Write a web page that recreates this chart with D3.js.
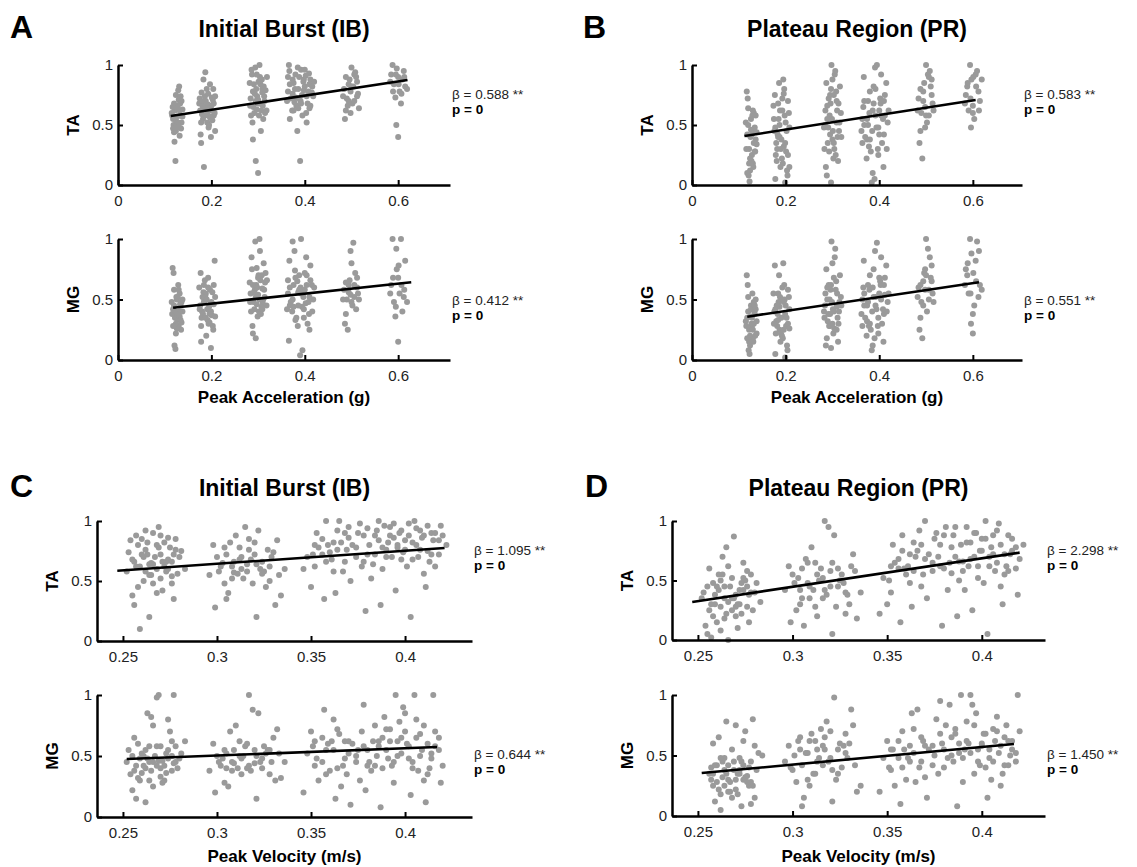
<!DOCTYPE html>
<html>
<head>
<meta charset="utf-8">
<script src="https://cdn.jsdelivr.net/npm/d3@7"></script>
<style>
  body { margin: 0; background: #fff; }
  svg { display: block; font-family: "Liberation Sans", Arial, sans-serif; }
  .domain { stroke: #000; stroke-width: 2.5; }
  .tick line { stroke: #000; stroke-width: 2; }
  .tick text { font-size: 15px; fill: #222; }
</style>
</head>
<body>
<script>
const width = 1137;
const height = 867;

// données : paires [x*1000, y*100]
// A : accélération, Initial Burst
const accIbTA = [
  118,55, 122,62, 126,48, 130,71, 134,58, 120,44, 128,66, 136,52, 115,60, 124,75, 132,41, 138,63, 119,50, 127,57, 133,68, 121,36, 129,79, 135,47, 117,65, 125,53, 131,82, 123,20,
  116,58, 120,68, 124,45, 128,52, 132,62, 136,70, 122,56, 126,64, 130,49, 134,74, 138,57, 118,47,
  176,62, 182,55, 188,70, 194,48, 200,66, 205,58, 179,77, 185,63, 191,52, 197,84, 203,71, 208,45, 174,68, 180,59, 186,74, 192,61, 198,56, 204,80, 177,42, 183,88, 189,65, 195,50, 201,73, 207,60, 178,35, 187,94, 193,67, 199,40, 184,15, 196,57,
  175,72, 181,66, 187,58, 193,76, 199,62, 205,68, 178,52, 184,70, 190,80, 196,64, 202,54, 208,74,
  284,72, 290,65, 296,80, 302,58, 308,88, 314,70, 318,62, 287,92, 293,76, 299,68, 305,84, 311,55, 286,96, 292,60, 298,74, 304,90, 310,66, 316,79, 282,85, 288,52, 294,98, 300,71, 306,45, 312,82, 289,38, 297,63, 303,100, 309,77, 295,20, 300,10,
  283,66, 289,78, 295,70, 301,86, 307,62, 313,74, 319,90, 285,58, 291,84, 297,92, 303,68, 309,80, 315,60,
  364,78, 370,72, 376,85, 382,66, 388,90, 394,75, 400,82, 406,68, 412,88, 418,74, 367,95, 373,62, 379,80, 385,98, 391,70, 397,86, 403,60, 409,93, 415,77, 368,55, 374,88, 380,73, 386,64, 392,96, 398,79, 404,52, 410,84, 366,100, 384,45, 402,91, 378,69, 395,58, 390,20, 412,66,
  362,70, 368,84, 374,76, 380,92, 386,80, 392,68, 398,88, 404,74, 410,64, 416,82, 364,90, 376,62, 388,72, 400,96, 408,78, 420,86,
  484,80, 490,72, 496,88, 502,68, 508,94, 514,76, 488,62, 494,84, 500,98, 506,70, 512,86, 486,55, 498,78, 510,90, 492,66, 504,82,
  482,74, 488,90, 494,70, 500,82, 506,92, 512,74, 516,64, 498,60,
  585,92, 591,84, 597,97, 603,78, 609,88, 615,82, 588,100, 594,73, 600,90, 606,68, 612,95, 596,50, 600,40,
  583,86, 589,78, 595,92, 601,84, 607,76, 613,90, 619,80
];
const accIbMG = [
  118,42, 122,35, 126,50, 130,28, 134,45, 120,58, 128,38, 136,31, 115,48, 124,22, 132,55, 138,40, 119,72, 127,33, 133,46, 121,12, 129,62, 135,25, 117,76, 125,52, 131,40, 123,9,
  116,38, 120,45, 124,30, 128,52, 132,36, 136,48, 122,40, 126,26, 130,58, 134,33, 138,50, 118,28,
  176,45, 182,38, 188,55, 194,30, 200,48, 205,62, 179,35, 185,50, 191,42, 197,58, 203,28, 208,52, 174,60, 180,40, 186,66, 192,33, 198,46, 204,25, 177,72, 183,56, 189,20, 195,44, 201,37, 207,82, 178,15, 187,53, 193,68, 199,10, 184,48, 196,31,
  175,42, 181,52, 187,35, 193,60, 199,40, 205,46, 178,28, 184,62, 190,50, 196,38, 202,56, 208,36,
  284,55, 290,48, 296,62, 302,40, 308,70, 314,52, 318,45, 287,75, 293,58, 299,36, 305,66, 311,50, 286,85, 292,42, 298,60, 304,90, 310,47, 316,72, 282,64, 288,28, 294,98, 300,54, 306,38, 312,80, 289,22, 297,46, 303,100, 309,59, 295,18, 300,68,
  283,48, 289,62, 295,52, 301,70, 307,44, 313,58, 319,66, 285,40, 291,56, 297,76, 303,50, 309,42, 315,64,
  364,55, 370,48, 376,62, 382,35, 388,70, 394,44, 400,58, 406,30, 412,66, 418,50, 367,82, 373,40, 379,74, 385,28, 391,60, 397,52, 403,85, 409,38, 415,62, 368,45, 374,98, 380,33, 386,56, 392,100, 398,42, 404,70, 410,25, 366,16, 384,65, 402,47, 378,90, 395,8, 390,4, 412,78,
  362,42, 368,60, 374,50, 380,68, 386,45, 392,55, 398,35, 404,62, 410,52, 416,40, 364,66, 376,44, 388,58, 400,72, 408,48, 420,60,
  484,58, 490,50, 496,66, 502,45, 508,72, 514,55, 488,38, 494,62, 500,80, 506,52, 512,68, 486,30, 498,90, 510,42, 492,25, 504,97,
  482,50, 488,64, 494,56, 500,48, 506,62, 512,60, 516,50, 498,54,
  585,62, 591,48, 597,75, 603,55, 609,40, 615,82, 588,100, 594,36, 600,68, 606,100, 612,52, 596,92, 600,15,
  583,55, 589,68, 595,44, 601,78, 607,62, 613,58, 619,48
];
// B : accélération, Plateau Region
const accPrTA = [
  118,42, 122,30, 126,55, 130,18, 134,48, 120,64, 128,25, 136,38, 115,52, 124,12, 132,60, 138,34, 119,72, 127,20, 133,45, 121,8, 129,58, 135,28, 117,78, 125,40, 131,15, 123,3,
  116,30, 120,50, 124,22, 128,42, 132,35, 136,58, 122,18, 126,46, 130,62, 134,28, 138,44, 118,10,
  176,45, 182,30, 188,62, 194,18, 200,52, 205,70, 179,25, 185,55, 191,38, 197,80, 203,12, 208,48, 174,66, 180,35, 186,85, 192,22, 198,58, 204,8, 177,75, 183,42, 189,15, 195,88, 201,28, 207,60, 178,5, 187,50, 193,72, 199,2, 184,40, 196,32,
  175,55, 181,20, 187,40, 193,62, 199,35, 205,25, 178,48, 184,68, 190,30, 196,76, 202,45, 208,15,
  284,50, 290,35, 296,68, 302,22, 308,78, 314,45, 318,60, 287,85, 293,28, 299,55, 305,92, 311,40, 286,15, 292,72, 298,100, 304,30, 310,62, 316,82, 282,48, 288,8, 294,58, 300,38, 306,95, 312,20, 289,66, 297,2, 303,75, 309,52, 295,42, 300,88,
  283,30, 289,55, 295,75, 301,45, 307,25, 313,68, 319,40, 285,62, 291,48, 297,80, 303,35, 309,70, 315,52,
  364,55, 370,40, 376,70, 382,28, 388,82, 394,48, 400,62, 406,35, 412,75, 418,52, 367,90, 373,22, 379,60, 385,45, 391,98, 397,30, 403,68, 409,15, 415,85, 368,50, 374,38, 380,78, 386,10, 392,58, 398,25, 404,92, 410,42, 366,65, 384,2, 402,72, 378,32, 395,100, 390,5, 412,58,
  362,45, 368,70, 374,55, 380,38, 386,62, 392,80, 398,48, 404,58, 410,70, 416,30, 364,35, 376,50, 388,68, 400,42, 408,55, 420,62,
  484,72, 490,60, 496,85, 502,52, 508,95, 514,68, 488,45, 494,78, 500,100, 506,58, 512,88, 486,35, 498,65, 510,82, 492,22, 504,92,
  482,62, 488,80, 494,70, 500,58, 506,90, 512,75, 516,62, 498,48,
  585,75, 591,62, 597,88, 603,55, 609,95, 615,70, 588,82, 594,100, 600,60, 606,92, 612,78, 596,48, 600,66,
  583,68, 589,85, 595,72, 601,90, 607,82, 613,62, 619,88
];
const accPrMG = [
  118,35, 122,25, 126,45, 130,18, 134,38, 120,52, 128,28, 136,42, 115,32, 124,12, 132,48, 138,22, 119,62, 127,30, 133,40, 121,8, 129,55, 135,20, 117,70, 125,36, 131,15, 123,5,
  116,28, 120,40, 124,20, 128,35, 132,30, 136,50, 122,15, 126,42, 130,25, 134,45, 138,32, 118,18,
  176,40, 182,28, 188,52, 194,18, 200,45, 205,58, 179,22, 185,48, 191,35, 197,62, 203,12, 208,42, 174,55, 180,32, 186,70, 192,20, 198,50, 204,8, 177,78, 183,38, 189,15, 195,80, 201,28, 207,52, 178,5, 187,44, 193,60, 199,2, 184,33, 196,25,
  175,30, 181,45, 187,25, 193,50, 199,38, 205,30, 178,42, 184,55, 190,22, 196,48, 202,35, 208,26,
  284,45, 290,32, 296,58, 302,22, 308,65, 314,40, 318,52, 287,75, 293,28, 299,48, 305,85, 311,35, 286,12, 292,62, 298,98, 304,26, 310,55, 316,70, 282,40, 288,18, 294,50, 300,30, 306,92, 312,15, 289,60, 297,10, 303,68, 309,44, 295,38, 300,80,
  283,35, 289,50, 295,28, 301,42, 307,58, 313,30, 319,45, 285,55, 291,38, 297,62, 303,40, 309,25, 315,48,
  364,50, 370,35, 376,62, 382,25, 388,75, 394,42, 400,55, 406,30, 412,68, 418,48, 367,82, 373,20, 379,58, 385,40, 391,90, 397,28, 403,62, 409,15, 415,78, 368,45, 374,32, 380,70, 386,12, 392,52, 398,22, 404,85, 410,38, 366,60, 384,8, 402,65, 378,28, 395,97, 390,18, 412,54,
  362,38, 368,55, 374,45, 380,30, 386,60, 392,45, 398,35, 404,50, 410,62, 416,40, 364,28, 376,48, 388,52, 400,68, 408,42, 420,55,
  484,60, 490,48, 496,72, 502,40, 508,85, 514,55, 488,35, 494,65, 500,100, 506,50, 512,78, 486,25, 498,58, 510,68, 492,18, 504,92,
  482,52, 488,62, 494,45, 500,70, 506,58, 512,65, 516,48, 498,75,
  585,75, 591,55, 597,88, 603,45, 609,98, 615,62, 588,70, 594,100, 600,38, 606,82, 612,52, 596,30, 600,22,
  583,62, 589,80, 595,55, 601,72, 607,65, 613,90, 619,58
];
// C : vitesse, Initial Burst
const velIbTA = [
  252,58, 256,66, 260,72, 264,55, 268,80, 272,62, 276,48, 280,70, 254,84, 258,45, 262,76, 266,90, 270,52, 274,68, 278,85, 283,60, 255,38, 259,62, 263,82, 267,70, 271,42, 275,78, 279,56, 253,74, 257,88, 261,50, 265,65, 269,95, 273,58, 277,35, 281,75, 256,30, 262,92, 268,40, 274,86, 259,10, 264,20, 266,64, 270,88, 276,66,
  257,62, 261,70, 265,55, 269,78, 273,66, 277,72, 258,80, 262,58, 266,48, 270,72, 274,60, 278,76, 255,68, 260,85, 264,64, 268,60, 272,82, 276,54, 263,72, 271,66,
  296,55, 300,70, 304,48, 308,62, 312,78, 316,58, 320,72, 324,66, 328,50, 332,84, 336,60, 298,80, 302,62, 306,40, 310,88, 314,52, 318,68, 322,92, 326,45, 330,74, 334,38, 299,28, 303,65, 307,82, 311,56, 315,95, 319,48, 323,60, 327,76, 331,30, 305,35, 313,70, 321,20, 317,85, 309,57,
  301,58, 305,72, 309,66, 313,60, 317,76, 321,64, 325,58, 329,70, 333,55, 304,78, 308,52, 312,68, 316,64, 320,82, 324,56, 328,62,
  348,70, 352,62, 356,85, 360,74, 364,92, 368,66, 372,80, 376,98, 380,72, 384,88, 388,60, 392,95, 396,78, 400,84, 404,68, 408,92, 412,75, 416,62, 420,88, 350,45, 354,78, 358,100, 362,58, 366,82, 370,95, 374,70, 378,88, 382,52, 386,100, 390,76, 394,86, 398,68, 402,98, 406,80, 410,56, 414,90, 418,72, 422,80, 346,60, 357,35, 363,40, 371,50, 379,25, 387,30, 395,42, 403,20, 411,45,
  353,90, 361,68, 369,76, 377,62, 385,92, 393,70, 397,90, 401,62, 405,100, 409,86, 413,66, 399,74, 391,82, 383,64, 375,90, 367,58, 359,80, 351,72, 365,100, 381,80, 389,96, 407,70, 415,84, 419,96,
  356,72, 362,82, 368,90, 374,78, 380,94, 386,84, 390,70, 392,88, 394,98, 396,80, 398,92, 400,76, 402,88, 404,82, 406,94, 408,76, 410,88, 412,96, 414,72, 416,90, 418,84, 388,78, 384,72, 378,66, 370,86, 364,76, 358,66, 352,80
];
const velIbMG = [
  252,45, 256,38, 260,52, 264,30, 268,58, 272,42, 276,62, 280,48, 254,35, 258,60, 262,40, 266,75, 270,33, 274,55, 278,45, 283,62, 255,22, 259,48, 263,85, 267,50, 271,28, 275,70, 279,40, 253,55, 257,15, 261,42, 265,82, 269,100, 273,36, 277,100, 281,52, 256,65, 262,12, 268,98, 274,80, 259,30, 264,45, 266,25, 270,58, 276,38,
  257,42, 261,50, 265,38, 269,46, 273,52, 277,44, 258,32, 262,55, 266,45, 270,40, 274,48, 278,58, 255,50, 260,36, 264,58, 268,42, 272,30, 276,50, 263,48, 271,46,
  296,38, 300,50, 304,28, 308,45, 312,62, 316,40, 320,55, 324,48, 328,35, 332,72, 336,45, 298,60, 302,42, 306,25, 310,75, 314,50, 318,38, 322,85, 326,52, 330,65, 334,32, 299,20, 303,48, 307,70, 311,40, 315,58, 319,88, 323,45, 327,55, 331,30, 305,52, 313,35, 321,15, 317,100, 309,44,
  301,45, 305,40, 309,55, 313,48, 317,42, 321,50, 325,58, 329,45, 333,52, 304,55, 308,38, 312,50, 316,60, 320,44, 324,40, 328,55,
  348,52, 352,42, 356,65, 360,38, 364,72, 368,48, 372,60, 376,30, 380,55, 384,75, 388,40, 392,62, 396,50, 400,85, 404,45, 408,68, 412,35, 416,58, 420,42, 350,70, 354,30, 358,55, 362,80, 366,25, 370,62, 374,45, 378,92, 382,38, 386,58, 390,72, 394,28, 398,65, 402,48, 406,80, 410,30, 414,52, 418,65, 346,20, 357,88, 363,15, 371,10, 379,22, 387,8, 395,100, 403,18, 411,12,
  353,48, 361,62, 369,35, 377,70, 385,50, 393,42, 397,78, 401,60, 405,100, 409,55, 413,40, 399,90, 391,48, 383,62, 375,55, 367,42, 359,60, 351,58, 365,68, 381,45, 389,82, 407,38, 415,100, 419,28,
  356,45, 362,55, 368,62, 374,50, 380,42, 386,62, 390,55, 392,72, 394,45, 396,62, 398,52, 400,70, 402,58, 404,40, 406,65, 408,50, 410,75, 412,60, 414,48, 416,70, 418,55, 388,65, 384,42, 378,58, 370,52, 364,40, 358,35, 352,62
];
// D : vitesse, Plateau Region
const velPrTA = [
  252,35, 256,25, 260,45, 264,18, 268,52, 272,30, 276,58, 280,40, 254,12, 258,48, 262,28, 266,62, 270,20, 274,42, 278,55, 283,32, 255,5, 259,38, 263,70, 267,45, 271,10, 275,50, 279,25, 253,40, 257,2, 261,55, 265,78, 269,87, 273,22, 277,15, 281,48, 256,60, 262,8, 268,35, 274,65, 259,30, 264,45, 266,0, 270,38, 276,28,
  257,30, 261,42, 265,22, 269,35, 273,48, 277,38, 258,20, 262,50, 266,32, 270,28, 274,52, 278,40, 255,45, 260,15, 264,35, 268,25, 272,42, 276,45, 263,55, 271,30,
  296,42, 300,55, 304,30, 308,48, 312,65, 316,35, 320,58, 324,45, 328,22, 332,72, 336,40, 298,62, 302,25, 306,12, 310,78, 314,50, 318,38, 322,88, 326,55, 330,30, 334,18, 299,15, 303,52, 307,68, 311,42, 315,60, 319,95, 323,28, 327,48, 331,62, 305,35, 313,20, 321,5, 317,100, 309,45,
  301,48, 305,60, 309,35, 313,55, 317,42, 321,65, 325,50, 329,38, 333,58, 304,42, 308,65, 312,28, 316,52, 320,45, 324,60, 328,40,
  348,52, 352,40, 356,68, 360,55, 364,82, 368,45, 372,72, 376,90, 380,60, 384,78, 388,50, 392,95, 396,70, 400,85, 404,62, 408,92, 412,55, 416,75, 420,68, 350,30, 354,65, 358,88, 362,48, 366,75, 370,100, 374,58, 378,80, 382,42, 386,95, 390,66, 394,82, 398,52, 402,100, 406,72, 410,45, 414,88, 418,60, 422,80, 346,22, 357,15, 363,28, 371,35, 379,12, 387,20, 395,25, 403,5, 411,30,
  353,80, 361,62, 369,55, 377,70, 385,88, 393,62, 397,90, 401,48, 405,78, 409,98, 413,62, 399,75, 391,42, 383,65, 375,85, 367,92, 359,60, 351,50, 365,70, 381,95, 389,80, 407,58, 415,72, 419,38,
  356,60, 362,72, 368,80, 374,65, 380,88, 386,70, 390,58, 392,82, 394,68, 396,90, 398,62, 400,75, 402,85, 404,70, 406,88, 408,65, 410,80, 412,72, 414,58, 416,85, 418,78, 388,66, 384,56, 378,62, 370,68, 364,58, 358,75, 352,62
];
const velPrMG = [
  256,35, 258,25, 260,42, 262,18, 264,48, 266,30, 268,55, 270,22, 272,38, 274,62, 276,28, 278,45, 280,15, 282,52, 257,40, 259,12, 261,65, 263,32, 265,78, 267,20, 269,45, 271,35, 273,8, 275,70, 277,25, 279,80, 281,38, 284,50, 258,60, 262,5, 266,42, 270,75, 274,30, 278,10, 260,28, 264,38, 268,15, 272,48, 276,33, 280,58,
  257,30, 259,42, 261,22, 263,45, 265,35, 267,28, 269,38, 271,18, 273,45, 275,32, 277,40, 279,25, 258,35, 262,48, 266,20, 270,30, 274,42, 278,28, 264,25, 272,35,
  296,45, 300,38, 304,55, 308,30, 312,62, 316,42, 320,70, 324,35, 328,52, 332,75, 336,25, 298,58, 302,28, 306,15, 310,68, 314,48, 318,78, 322,98, 326,40, 330,60, 334,20, 299,40, 303,62, 307,52, 311,35, 315,72, 319,45, 323,30, 327,58, 331,88, 305,8, 313,55, 321,12, 317,65, 309,25,
  301,50, 305,42, 309,62, 313,45, 317,55, 321,38, 325,60, 329,48, 333,42, 304,65, 308,52, 312,35, 316,58, 320,48, 324,55, 328,68,
  348,48, 352,38, 356,62, 360,30, 364,72, 368,45, 372,55, 376,80, 380,40, 384,65, 388,52, 392,78, 396,35, 400,60, 404,48, 408,82, 412,42, 416,55, 420,70, 350,62, 354,25, 358,70, 362,45, 366,88, 370,32, 374,58, 378,95, 382,48, 386,68, 390,28, 394,100, 398,55, 402,40, 406,72, 410,25, 414,62, 418,45, 346,20, 357,10, 363,85, 371,15, 379,60, 387,8, 395,92, 403,15, 411,35,
  353,55, 361,48, 369,62, 377,35, 385,45, 393,60, 397,85, 401,68, 405,30, 409,52, 413,75, 399,42, 391,55, 383,92, 375,50, 367,40, 359,55, 351,40, 365,28, 381,75, 389,100, 407,62, 415,50, 419,100,
  356,48, 362,58, 368,65, 374,42, 380,55, 386,72, 390,48, 392,62, 394,52, 396,75, 398,45, 400,58, 402,68, 404,55, 406,45, 408,70, 410,58, 412,65, 414,42, 416,62, 418,52, 388,60, 384,50, 378,68, 370,58, 364,52, 358,40, 352,55
];

// droites de régression [x début, y début, x fin, y fin]
const fitAccIbTA = [0.113, 0.575, 0.62, 0.875];
const fitAccIbMG = [0.118, 0.432, 0.628, 0.642];
const fitAccPrTA = [0.112, 0.408, 0.606, 0.708];
const fitAccPrMG = [0.118, 0.358, 0.613, 0.643];
const fitVelIbTA = [0.247, 0.586, 0.421, 0.775];
const fitVelIbMG = [0.252, 0.475, 0.417, 0.574];
const fitVelPrTA = [0.247, 0.320, 0.420, 0.734];
const fitVelPrMG = [0.252, 0.355, 0.417, 0.595];

// coefficients affichés
const betaLabels = ["0.588", "0.412", "0.583", "0.551", "1.095", "0.644", "2.298", "1.450"];
const pLabels = ["0", "0", "0", "0", "0", "0", "0", "0"];

// ticks
const accTicks = [0, 0.2, 0.4, 0.6];
const velTicks = [0.25, 0.3, 0.35, 0.4];
const yTicks = [0, 0.5, 1];

const svg = d3.select("body").append("svg")
  .attr("width", width)
  .attr("height", height);

function pairs(arr) {
  const out = [];
  for (let i = 0; i < arr.length; i += 2) out.push([arr[i] / 1000, arr[i + 1] / 100]);
  return out;
}

// mise en page des sous-graphes
const panels = [
  { letter: "A", title: "Initial Burst (IB)", xLabel: "Peak Acceleration (g)", x0: 118, x1: 450, dom: [0, 0.711], ticks: accTicks, rows: [65, 239], bottoms: [185, 360], betaY: [100, 306], data: [accIbTA, accIbMG], fits: [fitAccIbTA, fitAccIbMG], idx: [0, 1], titleY: 37, letterX: 10, xLabelY: 403 },
  { letter: "B", title: "Plateau Region (PR)", xLabel: "Peak Acceleration (g)", x0: 692, x1: 1022, dom: [0, 0.705], ticks: accTicks, rows: [65, 239], bottoms: [185, 360], betaY: [100, 306], data: [accPrTA, accPrMG], fits: [fitAccPrTA, fitAccPrMG], idx: [2, 3], titleY: 37, letterX: 583, xLabelY: 403 },
  { letter: "C", title: "Initial Burst (IB)", xLabel: "Peak Velocity (m/s)", x0: 97, x1: 472, dom: [0.2362, 0.4356], ticks: velTicks, rows: [521, 695], bottoms: [641, 817], betaY: [556, 760], data: [velIbTA, velIbMG], fits: [fitVelIbTA, fitVelIbMG], idx: [4, 5], titleY: 496, letterX: 10, xLabelY: 862 },
  { letter: "D", title: "Plateau Region (PR)", xLabel: "Peak Velocity (m/s)", x0: 672, x1: 1045, dom: [0.2363, 0.4334], ticks: velTicks, rows: [521, 695], bottoms: [640, 816], betaY: [556, 760], data: [velPrTA, velPrMG], fits: [fitVelPrTA, fitVelPrMG], idx: [6, 7], titleY: 496, letterX: 585, xLabelY: 862 }
];
const muscles = ["TA", "MG"];

panels.forEach(p => {
  const x = d3.scaleLinear().domain(p.dom).range([p.x0, p.x1]);
  const mid = (p.x0 + p.x1) / 2;

  svg.append("text")
    .attr("x", p.letterX).attr("y", p.titleY + 1)
    .style("font-size", "32px").style("font-weight", "bold")
    .text(p.letter);

  svg.append("text")
    .attr("x", mid).attr("y", p.titleY)
    .attr("text-anchor", "middle")
    .style("font-size", "23px").style("font-weight", "bold")
    .text(p.title);

  svg.append("text")
    .attr("x", mid).attr("y", p.xLabelY)
    .attr("text-anchor", "middle")
    .style("font-size", "17px").style("font-weight", "bold")
    .text(p.xLabel);

  [0, 1].forEach(r => {
    const y = d3.scaleLinear().domain([0, 1]).range([p.bottoms[r], p.rows[r]]);
    const g = svg.append("g");

    // nuage de points
    g.selectAll("circle")
      .data(pairs(p.data[r]))
      .join("circle")
      .attr("cx", d => x(d[0]))
      .attr("cy", d => y(d[1]))
      .attr("r", 3)
      .attr("fill", "#9a9a9a");

    // droite de régression
    const f = p.fits[r];
    g.append("line")
      .attr("x1", x(f[0])).attr("y1", y(f[1]))
      .attr("x2", x(f[2])).attr("y2", y(f[3]))
      .attr("stroke", "#000").attr("stroke-width", 2.6);

    g.append("g")
      .attr("transform", `translate(0,${p.bottoms[r]})`)
      .call(d3.axisBottom(x).tickValues(p.ticks).tickFormat(d => String(d))
        .tickSizeInner(-5).tickSizeOuter(0).tickPadding(10));

    g.append("g")
      .attr("transform", `translate(${p.x0},0)`)
      .call(d3.axisLeft(y).tickValues(yTicks).tickFormat(d => String(d))
        .tickSizeInner(-5).tickSizeOuter(0).tickPadding(5));

    g.append("text")
      .attr("transform", `translate(${p.x0 - 45},${y(0.5)}) rotate(-90)`)
      .attr("text-anchor", "middle")
      .attr("dy", "0.35em")
      .style("font-size", "17px").style("font-weight", "bold")
      .text(muscles[r]);

    const k = p.idx[r];
    g.append("text")
      .attr("x", p.x1 + 2).attr("y", p.betaY[r] - 1)
      .style("font-size", "13.5px").style("fill", "#222")
      .text(`β = ${betaLabels[k]} **`);
    g.append("text")
      .attr("x", p.x1 + 2).attr("y", p.betaY[r] + 14)
      .style("font-size", "13.5px").style("font-weight", "bold")
      .text(`p = ${pLabels[k]}`);
  });
});
</script>
</body>
</html>
